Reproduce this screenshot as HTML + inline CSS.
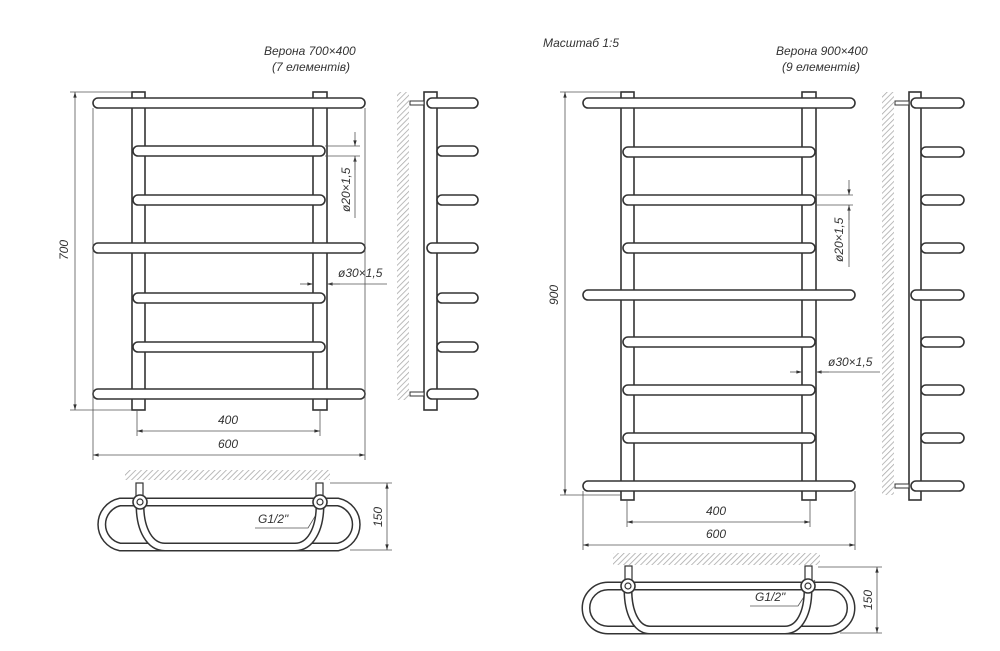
<!DOCTYPE html>
<html><head><meta charset="utf-8"><style>
html,body{margin:0;padding:0;background:#fff;}
svg{display:block;}
text{font-family:"Liberation Sans",sans-serif;font-style:italic;fill:#333;font-size:12px;}
</style></head><body>
<svg width="1000" height="651" viewBox="0 0 1000 651" xmlns="http://www.w3.org/2000/svg">
<defs>
<pattern id="h" width="4" height="4" patternUnits="userSpaceOnUse" patternTransform="rotate(45)">
<rect width="4" height="4" fill="#fff"/><line x1="0" y1="0" x2="0" y2="4" stroke="#aaa" stroke-width="1.6"/>
</pattern>
<marker id="a" viewBox="0 0 10 10" refX="10" refY="5" markerWidth="9" markerHeight="7" orient="auto-start-reverse"><path d="M0,2 L10,5 L0,8z" fill="#333"/></marker>
</defs>
<g stroke="#333" stroke-width="1.6" fill="#fff">
<rect x="132" y="92" width="13" height="318"/>
<rect x="313" y="92" width="14" height="318"/>
<rect x="93" y="98" width="272" height="10" rx="5"/>
<rect x="133" y="146" width="192" height="10" rx="5"/>
<rect x="133" y="195" width="192" height="10" rx="5"/>
<rect x="93" y="243" width="272" height="10" rx="5"/>
<rect x="133" y="293" width="192" height="10" rx="5"/>
<rect x="133" y="342" width="192" height="10" rx="5"/>
<rect x="93" y="389" width="272" height="10" rx="5"/>
<rect x="397" y="92" width="12" height="308" fill="url(#h)" stroke="none"/>
<rect x="424" y="92" width="13" height="318"/>
<rect x="410" y="101" width="14" height="4" stroke-width="1"/>
<rect x="410" y="392" width="14" height="4" stroke-width="1"/>
<rect x="427" y="98" width="51" height="10" rx="5"/>
<rect x="437" y="146" width="41" height="10" rx="5"/>
<rect x="437" y="195" width="41" height="10" rx="5"/>
<rect x="427" y="243" width="51" height="10" rx="5"/>
<rect x="437" y="293" width="41" height="10" rx="5"/>
<rect x="437" y="342" width="41" height="10" rx="5"/>
<rect x="427" y="389" width="51" height="10" rx="5"/>

<rect x="621" y="92" width="13" height="408"/>
<rect x="802" y="92" width="14" height="408"/>
<rect x="583" y="98" width="272" height="10" rx="5"/>
<rect x="623" y="147" width="192" height="10" rx="5"/>
<rect x="623" y="195" width="192" height="10" rx="5"/>
<rect x="623" y="243" width="192" height="10" rx="5"/>
<rect x="583" y="290" width="272" height="10" rx="5"/>
<rect x="623" y="337" width="192" height="10" rx="5"/>
<rect x="623" y="385" width="192" height="10" rx="5"/>
<rect x="623" y="433" width="192" height="10" rx="5"/>
<rect x="583" y="481" width="272" height="10" rx="5"/>
<rect x="882" y="92" width="12" height="403" fill="url(#h)" stroke="none"/>
<rect x="909" y="92" width="12" height="408"/>
<rect x="895" y="101" width="14" height="4" stroke-width="1"/>
<rect x="895" y="484" width="14" height="4" stroke-width="1"/>
<rect x="911" y="98" width="53" height="10" rx="5"/>
<rect x="921" y="147" width="43" height="10" rx="5"/>
<rect x="921" y="195" width="43" height="10" rx="5"/>
<rect x="921" y="243" width="43" height="10" rx="5"/>
<rect x="911" y="290" width="53" height="10" rx="5"/>
<rect x="921" y="337" width="43" height="10" rx="5"/>
<rect x="921" y="385" width="43" height="10" rx="5"/>
<rect x="921" y="433" width="43" height="10" rx="5"/>
<rect x="911" y="481" width="53" height="10" rx="5"/>
</g>

<g stroke="#555" stroke-width="0.8" fill="none">
<line x1="70" y1="92" x2="132" y2="92"/><line x1="70" y1="410" x2="132" y2="410"/>
<line x1="75" y1="92" x2="75" y2="410" marker-start="url(#a)" marker-end="url(#a)"/>
<line x1="137" y1="410" x2="137" y2="436"/><line x1="320" y1="410" x2="320" y2="436"/>
<line x1="137" y1="431" x2="320" y2="431" marker-start="url(#a)" marker-end="url(#a)"/>
<line x1="93" y1="108" x2="93" y2="460"/><line x1="365" y1="108" x2="365" y2="460"/>
<line x1="93" y1="455" x2="365" y2="455" marker-start="url(#a)" marker-end="url(#a)"/>
<line x1="325" y1="146" x2="360" y2="146"/><line x1="325" y1="156" x2="360" y2="156"/>
<line x1="355" y1="132" x2="355" y2="146" marker-end="url(#a)"/>
<line x1="355" y1="170" x2="355" y2="156" marker-end="url(#a)"/>
<line x1="355" y1="156" x2="355" y2="218"/>
<line x1="300" y1="284" x2="313" y2="284" marker-end="url(#a)"/>
<line x1="340" y1="284" x2="327" y2="284" marker-end="url(#a)"/>
<line x1="327" y1="284" x2="387" y2="284"/>

<line x1="560" y1="92" x2="621" y2="92"/><line x1="560" y1="495" x2="621" y2="495"/>
<line x1="565" y1="92" x2="565" y2="495" marker-start="url(#a)" marker-end="url(#a)"/>
<line x1="627" y1="500" x2="627" y2="527"/><line x1="810" y1="500" x2="810" y2="527"/>
<line x1="627" y1="522" x2="810" y2="522" marker-start="url(#a)" marker-end="url(#a)"/>
<line x1="583" y1="491" x2="583" y2="550"/><line x1="855" y1="491" x2="855" y2="550"/>
<line x1="583" y1="545" x2="855" y2="545" marker-start="url(#a)" marker-end="url(#a)"/>
<line x1="815" y1="195" x2="853" y2="195"/><line x1="815" y1="205" x2="853" y2="205"/>
<line x1="849" y1="180" x2="849" y2="195" marker-end="url(#a)"/>
<line x1="849" y1="220" x2="849" y2="205" marker-end="url(#a)"/>
<line x1="849" y1="205" x2="849" y2="267"/>
<line x1="790" y1="372" x2="802" y2="372" marker-end="url(#a)"/>
<line x1="829" y1="372" x2="816" y2="372" marker-end="url(#a)"/>
<line x1="816" y1="372" x2="880" y2="372"/>

<line x1="330" y1="483" x2="392" y2="483"/><line x1="350" y1="550" x2="392" y2="550"/>
<line x1="387" y1="483" x2="387" y2="550" marker-start="url(#a)" marker-end="url(#a)"/>
<line x1="818" y1="567" x2="882" y2="567"/><line x1="840" y1="633" x2="882" y2="633"/>
<line x1="877" y1="567" x2="877" y2="633" marker-start="url(#a)" marker-end="url(#a)"/>
<polyline points="255,528 308,528 325,500"/>
<polyline points="750,606 798,606 815,580"/>
</g>

<rect x="125" y="470" width="205" height="10" fill="url(#h)"/>
<rect x="613" y="553" width="207" height="12" fill="url(#h)"/>
<g fill="none" stroke="#333">
<path d="M120,502 H338 A23,23 0 0 1 338,547 H120 A23,23 0 0 1 120,502 Z" stroke-width="9"/>
<path d="M120,502 H338 A23,23 0 0 1 338,547 H120 A23,23 0 0 1 120,502 Z" stroke-width="6" stroke="#fff"/>
<path d="M140,505 C140,530 150,547 165,547 H295 C310,547 320,530 320,505" stroke-width="9"/>
<path d="M140,505 C140,530 150,547 165,547 H295 C310,547 320,530 320,505" stroke-width="6" stroke="#fff"/>
<rect x="136" y="483" width="7" height="16" fill="#fff" stroke-width="1.2"/>
<rect x="316" y="483" width="7" height="16" fill="#fff" stroke-width="1.2"/>
<circle cx="140" cy="502" r="7" fill="#fff" stroke-width="1.6"/><circle cx="140" cy="502" r="3" stroke-width="1.2"/>
<circle cx="320" cy="502" r="7" fill="#fff" stroke-width="1.6"/><circle cx="320" cy="502" r="3" stroke-width="1.2"/>

<path d="M608,586 H829 A22,22 0 0 1 829,630 H608 A22,22 0 0 1 608,586 Z" stroke-width="9"/>
<path d="M608,586 H829 A22,22 0 0 1 829,630 H608 A22,22 0 0 1 608,586 Z" stroke-width="6" stroke="#fff"/>
<path d="M628,590 C628,612 636,630 650,630 H785 C800,630 808,612 808,590" stroke-width="9"/>
<path d="M628,590 C628,612 636,630 650,630 H785 C800,630 808,612 808,590" stroke-width="6" stroke="#fff"/>
<rect x="625" y="566" width="7" height="16" fill="#fff" stroke-width="1.2"/>
<rect x="805" y="566" width="7" height="16" fill="#fff" stroke-width="1.2"/>
<circle cx="628" cy="586" r="7" fill="#fff" stroke-width="1.6"/><circle cx="628" cy="586" r="3" stroke-width="1.2"/>
<circle cx="808" cy="586" r="7" fill="#fff" stroke-width="1.6"/><circle cx="808" cy="586" r="3" stroke-width="1.2"/>
</g>

<text x="264" y="55">Верона 700×400</text>
<text x="272" y="71">(7 елементів)</text>
<text x="543" y="47">Масштаб 1:5</text>
<text x="776" y="55">Верона 900×400</text>
<text x="782" y="71">(9 елементів)</text>
<text transform="translate(68,260) rotate(-90)">700</text>
<text x="218" y="424">400</text>
<text x="218" y="448">600</text>
<text transform="translate(350,212) rotate(-90)">ø20×1,5</text>
<text x="338" y="277">ø30×1,5</text>
<text transform="translate(558,305) rotate(-90)">900</text>
<text x="706" y="515">400</text>
<text x="706" y="538">600</text>
<text transform="translate(843,262) rotate(-90)">ø20×1,5</text>
<text x="828" y="366">ø30×1,5</text>
<text x="258" y="523">G1/2"</text>
<text x="755" y="601">G1/2"</text>
<text transform="translate(382,527) rotate(-90)">150</text>
<text transform="translate(872,610) rotate(-90)">150</text>
</svg>
</body></html>
